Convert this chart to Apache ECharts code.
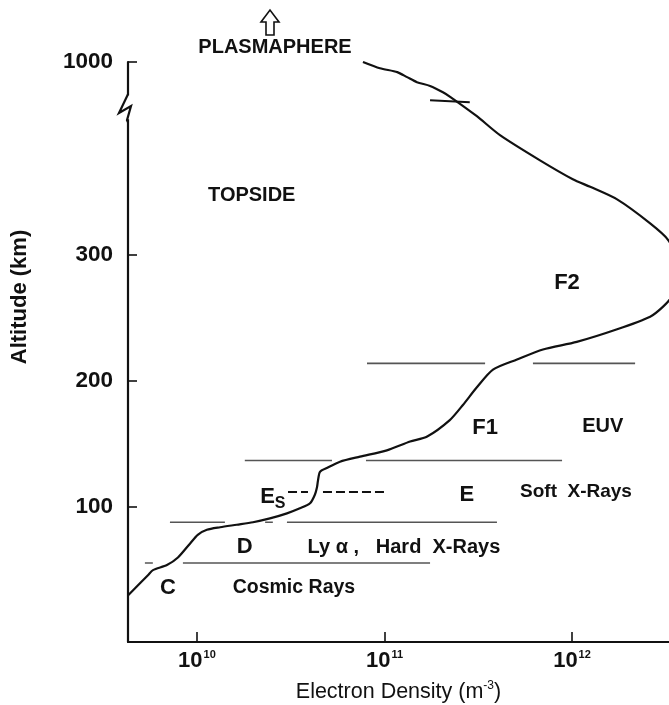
<!DOCTYPE html>
<html>
<head>
<meta charset="utf-8">
<script src="https://cdn.jsdelivr.net/npm/echarts@6/dist/echarts.min.js"></script>
<style>html,body{margin:0;padding:0;background:#fff;}#c{width:669px;height:705px;}</style>
</head>
<body>
<div id="c"></div>
<script>
// ---- data (electron density in m^-3, altitude in km) ----
const profileDensity = [4.3e9, 5.0e9, 5.48e9, 5.83e9, 6.92e9, 7.92e9, 9.18e9, 1.01e10, 1.13e10, 1.33e10,
  1.63e10, 1.99e10, 2.45e10, 3.02e10, 3.54e10, 4.01e10, 4.26e10, 4.37e10, 4.42e10, 4.53e10,
  4.93e10, 5.79e10, 7.4e10, 1.03e11, 1.37e11, 1.69e11, 2.23e11, 2.62e11, 3.11e11, 3.79e11,
  5.09e11, 7.0e11, 1.06e12, 1.74e12, 2.61e12, 3.06e12, 3.4e12, 3.77e12, 3.25e12, 2.61e12,
  1.74e12, 1.25e12, 1.01e12, 6.75e11, 4.13e11, 3.11e11, 2.26e11, 2.05e11, 1.75e11, 1.49e11,
  1.32e11, 1.17e11, 9.46e10, 7.68e10];
const profileAltitude = [30, 40, 46, 50, 54, 60, 71, 78, 82, 84,
  86, 88, 91, 95, 99, 103, 110, 116, 121, 128,
  131, 136, 140, 145, 152, 156, 169, 181, 195, 209,
  217, 225, 231, 241, 251, 259, 267, 292, 312, 325,
  344, 354, 360, 375, 395, 410, 972, 976, 981, 984,
  988, 992, 995, 1000];

const layerBoundaries = [
  { alt: 214, from: 8.07e10, to: 3.44e11 }, { alt: 214, from: 6.19e11, to: 2.17e12 },
  { alt: 137, from: 1.80e10, to: 5.25e10 }, { alt: 137, from: 7.97e10, to: 8.85e11 },
  { alt: 88, from: 7.18e9, to: 1.41e10 }, { alt: 88, from: 2.31e10, to: 2.54e10 },
  { alt: 88, from: 3.02e10, to: 3.98e11 },
  { alt: 55.6, from: 5.28e9, to: 5.82e9 }, { alt: 55.6, from: 8.42e9, to: 1.75e11 }
];
const sporadicE = [
  { alt: 112, from: 3.06e10, to: 3.91e10 }, { alt: 112, from: 4.70e10, to: 1.01e11 }
];

const annotations = [
  { text: 'TOPSIDE', n: 1.96e10, alt: 347, size: 20 },
  { text: 'F2', n: 9.4e11, alt: 278, size: 22 },
  { text: 'F1', n: 3.44e11, alt: 163, size: 22 },
  { text: 'EUV', n: 1.46e12, alt: 164, size: 20 },
  { text: 'E', n: 2.75e11, alt: 110, size: 22 },
  { text: 'Soft  X-Rays', n: 1.05e12, alt: 112, size: 19 },
  { text: '{e|E}{s|S}', n: 2.54e10, alt: 108, size: 22 },
  { text: 'D', n: 1.80e10, alt: 68, size: 22 },
  { text: 'Ly α ,   Hard  X-Rays', n: 1.27e11, alt: 68, size: 20 },
  { text: 'C', n: 7.0e9, alt: 36, size: 22 },
  { text: 'Cosmic Rays', n: 3.29e10, alt: 36, size: 19.5 }
];

const xTickValues = [1e10, 1e11, 1e12];
const yTickValues = [100, 200, 300, 1000];
const yBreak = { start: 410, end: 972 };

(function () {
const FONT = '"Liberation Sans", Arial, Helvetica, sans-serif';
const INK = '#111';
const chart = echarts.init(document.getElementById('c'), null, { renderer: 'canvas' });

const profile = profileDensity.map((n, i) => [n, profileAltitude[i]]);

const series = [{
  type: 'line', name: 'profile', data: profile, showSymbol: false, smooth: 0.25,
  lineStyle: { color: INK, width: 2.2 }, z: 5, silent: true
}];
layerBoundaries.forEach(b => series.push({
  type: 'line', data: [[b.from, b.alt], [b.to, b.alt]], showSymbol: false, silent: true,
  lineStyle: { color: '#555', width: 1.6 }, z: 3
}));
sporadicE.forEach(b => series.push({
  type: 'line', data: [[b.from, b.alt], [b.to, b.alt]], showSymbol: false, silent: true,
  lineStyle: { color: INK, width: 2, type: [9, 4] }, z: 3
}));
series.push({
  type: 'scatter', silent: true, symbolSize: 0, z: 6,
  itemStyle: { opacity: 1, color: 'transparent' },
  data: annotations.map(a => ({
    value: [a.n, a.alt],
    label: {
      show: true, position: 'inside', formatter: a.text, color: INK, opacity: 1,
      textBorderWidth: 0, fontFamily: FONT, fontWeight: 'bold', fontSize: a.size,
      rich: {
        e: { fontSize: 22, fontWeight: 'bold', fontFamily: FONT, color: INK },
        s: { fontSize: 16, fontWeight: 'bold', fontFamily: FONT, color: INK, padding: [14, 0, 0, 0] }
      }
    }
  }))
});

const option = {
  animation: false,
  backgroundColor: '#fff',
  grid: { left: 128, right: 0, top: 62, bottom: 63, outerBoundsMode: 'none', containLabel: false },
  xAxis: {
    type: 'log', logBase: 10, min: 4.29e9, max: 3.29e12,
    name: '{t|Electron Density (m}{s|-3}{t|)}',
    nameLocation: 'middle', nameGap: 38,
    nameTextStyle: {
      rich: {
        t: { fontSize: 21.5, fontFamily: FONT, color: INK },
        s: { fontSize: 12, fontFamily: FONT, color: INK, padding: [0, 0, 12, 0] }
      }
    },
    axisLine: { show: true, onZero: false, lineStyle: { color: INK, width: 2.2 } },
    axisTick: { show: true, inside: true, length: 10, customValues: xTickValues, lineStyle: { color: INK, width: 1.6 } },
    axisLabel: {
      show: true, margin: 7, customValues: xTickValues,
      formatter: v => '{b|10}{s|' + Math.round(Math.log10(v)) + '}',
      rich: {
        b: { fontSize: 22, fontFamily: FONT, color: INK, fontWeight: 'bold' },
        s: { fontSize: 11, fontFamily: FONT, color: INK, fontWeight: 'bold', padding: [0, 0, 13, 1] }
      }
    },
    splitLine: { show: false }, minorTick: { show: false }
  },
  yAxis: {
    type: 'value', min: -7, max: 1000,
    breaks: [{ start: yBreak.start, end: yBreak.end, gap: 15 }],
    breakArea: { show: false },
    axisLine: { show: true, onZero: false, lineStyle: { color: INK, width: 2.2 } },
    axisTick: { show: true, inside: true, length: 9, customValues: yTickValues, lineStyle: { color: INK, width: 1.6 } },
    axisLabel: {
      show: true, margin: 15, customValues: yTickValues, formatter: v => String(v),
      fontSize: 22.5, fontWeight: 'bold', fontFamily: FONT, color: INK
    },
    splitLine: { show: false }
  },
  series: series
};
chart.setOption(option);

// decorations positioned through the axes
const ax = chart.convertToPixel({ xAxisIndex: 0 }, 4.29e9);
const yTop = chart.convertToPixel({ yAxisIndex: 0 }, yBreak.end);
const yBot = chart.convertToPixel({ yAxisIndex: 0 }, yBreak.start);
const zt = yTop - 3, zb = yBot + 4, zh = zb - zt;
const cx1 = chart.convertToPixel({ xAxisIndex: 0 }, 1.75e11);
const cx2 = chart.convertToPixel({ xAxisIndex: 0 }, 2.85e11);

chart.setOption({
  graphic: [
    { type: 'rect', z: 100, shape: { x: ax - 4, y: zt + 1, width: 8, height: zh - 2 }, style: { fill: '#fff' } },
    { type: 'polyline', z: 101, shape: { points: [[ax, zt], [ax - 9, zt + 0.72 * zh], [ax + 3, zt + 0.45 * zh], [ax - 1, zb], [ax, zb + 2]] },
      style: { stroke: INK, lineWidth: 2.2, fill: null } },
    { type: 'line', z: 101, shape: { x1: cx1, y1: yTop + 3, x2: cx2, y2: yTop + 5 }, style: { stroke: INK, lineWidth: 2 } },
    { type: 'text', z: 101, x: 20, y: 297, rotation: Math.PI / 2,
      style: { text: 'Altitude (km)', fontSize: 22, fontWeight: 'bold', fontFamily: FONT, fill: INK, align: 'center', verticalAlign: 'middle' } },
    { type: 'text', z: 101, x: 275, y: 47,
      style: { text: 'PLASMAPHERE', fontSize: 20, fontWeight: 'bold', fontFamily: FONT, fill: INK, align: 'center', verticalAlign: 'middle' } },
    { type: 'polygon', z: 101, shape: { points: [[266, 35], [274, 35], [274, 22], [279, 22], [270, 10], [261, 22], [266, 22]] },
      style: { fill: '#fff', stroke: INK, lineWidth: 1.6 } }
  ]
});
})();
</script>
</body>
</html>
